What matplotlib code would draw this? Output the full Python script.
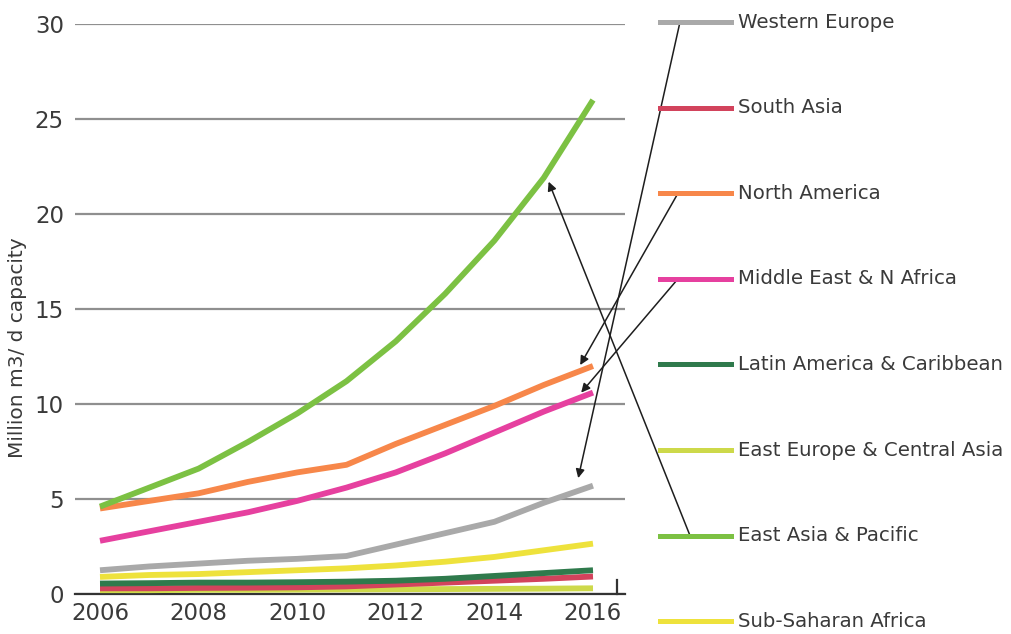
import matplotlib
matplotlib.use('Agg')
import matplotlib.pyplot as plt
from matplotlib.lines import Line2D

# data (million m3/d capacity)
years = [2006, 2007, 2008, 2009, 2010, 2011, 2012, 2013, 2014, 2015, 2016]
western_europe = [1.25, 1.45, 1.6, 1.75, 1.85, 2.0, 2.6, 3.2, 3.8, 4.8, 5.7]
south_asia = [0.3, 0.3, 0.32, 0.33, 0.35, 0.4, 0.5, 0.6, 0.7, 0.8, 0.92]
north_america = [4.5, 4.9, 5.3, 5.9, 6.4, 6.8, 7.9, 8.9, 9.9, 11.0, 12.0]
middle_east = [2.8, 3.3, 3.8, 4.3, 4.9, 5.6, 6.4, 7.4, 8.5, 9.6, 10.6]
latin_america = [0.55, 0.57, 0.6, 0.6, 0.62, 0.65, 0.7, 0.8, 0.95, 1.1, 1.25]
east_europe = [0.2, 0.2, 0.22, 0.22, 0.23, 0.24, 0.25, 0.26, 0.27, 0.28, 0.3]
east_asia = [4.6, 5.6, 6.6, 8.0, 9.5, 11.2, 13.3, 15.8, 18.6, 21.9, 26.0]
sub_saharan = [0.9, 1.0, 1.05, 1.15, 1.25, 1.35, 1.5, 1.7, 1.95, 2.3, 2.65]

labels = ['Western Europe', 'South Asia', 'North America', 'Middle East & N Africa',
          'Latin America & Caribbean', 'East Europe & Central Asia',
          'East Asia & Pacific', 'Sub-Saharan Africa']
series = [western_europe, south_asia, north_america, middle_east,
          latin_america, east_europe, east_asia, sub_saharan]
colors = ['#a9a9a9', '#d2435c', '#f7874a', '#e6409f',
          '#2f7a4c', '#cdd94a', '#7cc143', '#eee23c']

txt = '#3a3a3a'

fig = plt.figure(figsize=(10.12, 6.34), dpi=100)
ax = fig.add_axes([75/1012, 40/634, 550/1012, 570/634])

# draw order: low lines first, big ones on top
order = [5, 1, 4, 7, 0, 3, 2, 6]
for i in order:
    ax.plot(years, series[i], color=colors[i], lw=4.2, solid_capstyle='butt',
            solid_joinstyle='round', zorder=3)

ax.set_xlim(2006 - 25/49.3, 2016 + 32/49.3)
ax.set_ylim(0, 30)
ax.set_yticks([0, 5, 10, 15, 20, 25, 30])
ax.set_xticks([2006, 2008, 2010, 2012, 2014, 2016])
ax.grid(axis='y', color='#8f8f8f', lw=1.6)
ax.set_axisbelow(True)
for s in ['top', 'right', 'left']:
    ax.spines[s].set_visible(False)
ax.spines['bottom'].set_color('#333333')
ax.spines['bottom'].set_linewidth(1.6)
ax.tick_params(length=0, labelsize=16.5, colors=txt, pad=8)
ax.tick_params(axis='x', pad=6)
# little corner bracket at the right end of the x axis
ax.plot([0.985, 0.985], [0, 0.025], transform=ax.transAxes, color='#333333', lw=1.6, clip_on=False)

fig.text(18/1012, 1 - 348/634, 'Million m3/ d capacity', rotation=90, fontsize=14.5,
         color=txt, ha='center', va='center')

# hand-made legend on the right
leg_y = [1 - (22 + i*85.6)/634 for i in range(len(labels))]
for i, lab in enumerate(labels):
    fig.add_artist(Line2D([660/1012, 731/1012], [leg_y[i], leg_y[i]],
                          transform=fig.transFigure, color=colors[i], lw=3.6))
    fig.text(738/1012, leg_y[i], lab, fontsize=14.2, color=txt, va='center', ha='left')

# arrows from legend entries to the lines
arrows = [
    (0, 2015.7, 6.1, 680/1012),
    (2, 2015.74, 12.05, 678/1012),
    (3, 2015.76, 10.6, 678/1012),
    (6, 2015.1, 21.7, 690/1012),
]
for idx, xd, yd, xt in arrows:
    ax.annotate('', xy=(xd, yd), xycoords='data',
                xytext=(xt, leg_y[idx]), textcoords='figure fraction',
                arrowprops=dict(arrowstyle='-|>', color='#1e1e1e', lw=1.1,
                                mutation_scale=13, shrinkA=0, shrinkB=0),
                annotation_clip=False, zorder=5)

plt.savefig('out.png', dpi=100)
